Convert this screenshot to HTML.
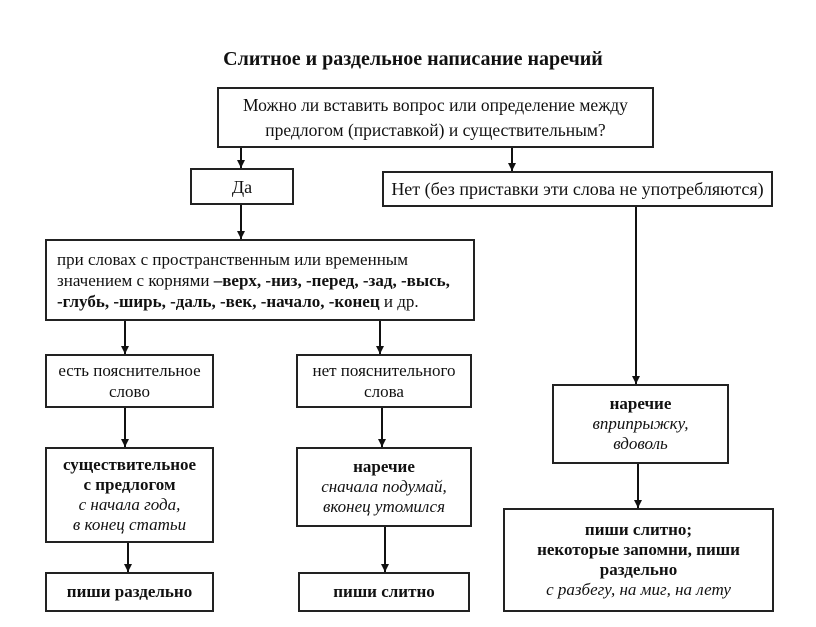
<!DOCTYPE html>
<html><head><meta charset="utf-8"><style>
body{margin:0;width:816px;height:627px;background:#fff;position:relative;font-family:"Liberation Serif",serif;color:#111;overflow:hidden}
.b{position:absolute;border:2px solid #222;box-sizing:border-box;display:flex;flex-direction:column;justify-content:center;align-items:center;text-align:center;font-size:17px;line-height:20px;white-space:nowrap}
.t{position:absolute;font-weight:bold}
i{font-weight:normal}
b{font-weight:bold}
svg{position:absolute;left:0;top:0}
</style></head><body>
<div class="t" style="left:200px;top:48px;font-size:20px;width:426px;text-align:center">Слитное и раздельное написание наречий</div>
<div class="b" style="left:217px;top:87px;width:437px;height:61px;font-size:17.5px;line-height:25px">Можно ли вставить вопрос или определение между<br>предлогом (приставкой) и существительным?</div>
<div class="b" style="left:190px;top:168px;width:104px;height:37px;font-size:18px">Да</div>
<div class="b" style="left:382px;top:171px;width:391px;height:36px;font-size:18px">Нет (без приставки эти слова не употребляются)</div>
<div class="b" style="left:45px;top:239px;width:430px;height:82px;align-items:flex-start;text-align:left;padding-left:10px;font-size:17px;line-height:21px">
<div>при словах с пространственным или временным<br>значением с корнями <b>–верх, -низ, -перед, -зад, -высь,<br>-глубь, -ширь, -даль, -век, -начало, -конец</b> и др.</div></div>
<div class="b" style="left:45px;top:354px;width:169px;height:54px;line-height:21px">есть пояснительное<br>слово</div>
<div class="b" style="left:296px;top:354px;width:176px;height:54px;line-height:21px">нет пояснительного<br>слова</div>
<div class="b" style="left:45px;top:447px;width:169px;height:96px;line-height:20px"><b>существительное<br>с предлогом</b><i>с начала года,<br>в конец статьи</i></div>
<div class="b" style="left:296px;top:447px;width:176px;height:80px;line-height:20px"><b>наречие</b><i>сначала подумай,<br>вконец утомился</i></div>
<div class="b" style="left:45px;top:572px;width:169px;height:40px"><b>пиши раздельно</b></div>
<div class="b" style="left:298px;top:572px;width:172px;height:40px"><b>пиши слитно</b></div>
<div class="b" style="left:552px;top:384px;width:177px;height:80px;line-height:20px"><b>наречие</b><i>вприпрыжку,<br>вдоволь</i></div>
<div class="b" style="left:503px;top:508px;width:271px;height:104px;line-height:20px"><b>пиши слитно;<br>некоторые запомни, пиши<br>раздельно</b><i>с разбегу, на миг, на лету</i></div>
<svg width="816" height="627">
<defs><marker id="a" markerWidth="8" markerHeight="8" refX="8" refY="4" orient="auto" markerUnits="userSpaceOnUse"><path d="M0,0 L8,4 L0,8Z" fill="#111"/></marker></defs>
<g stroke="#111" stroke-width="2" marker-end="url(#a)">
<line x1="241" y1="148" x2="241" y2="168"/>
<line x1="512" y1="148" x2="512" y2="171"/>
<line x1="241" y1="205" x2="241" y2="239"/>
<line x1="125" y1="321" x2="125" y2="354"/>
<line x1="380" y1="321" x2="380" y2="354"/>
<line x1="636" y1="207" x2="636" y2="384"/>
<line x1="125" y1="408" x2="125" y2="447"/>
<line x1="382" y1="408" x2="382" y2="447"/>
<line x1="128" y1="543" x2="128" y2="572"/>
<line x1="385" y1="527" x2="385" y2="572"/>
<line x1="638" y1="464" x2="638" y2="508"/>
</g></svg>
</body></html>
